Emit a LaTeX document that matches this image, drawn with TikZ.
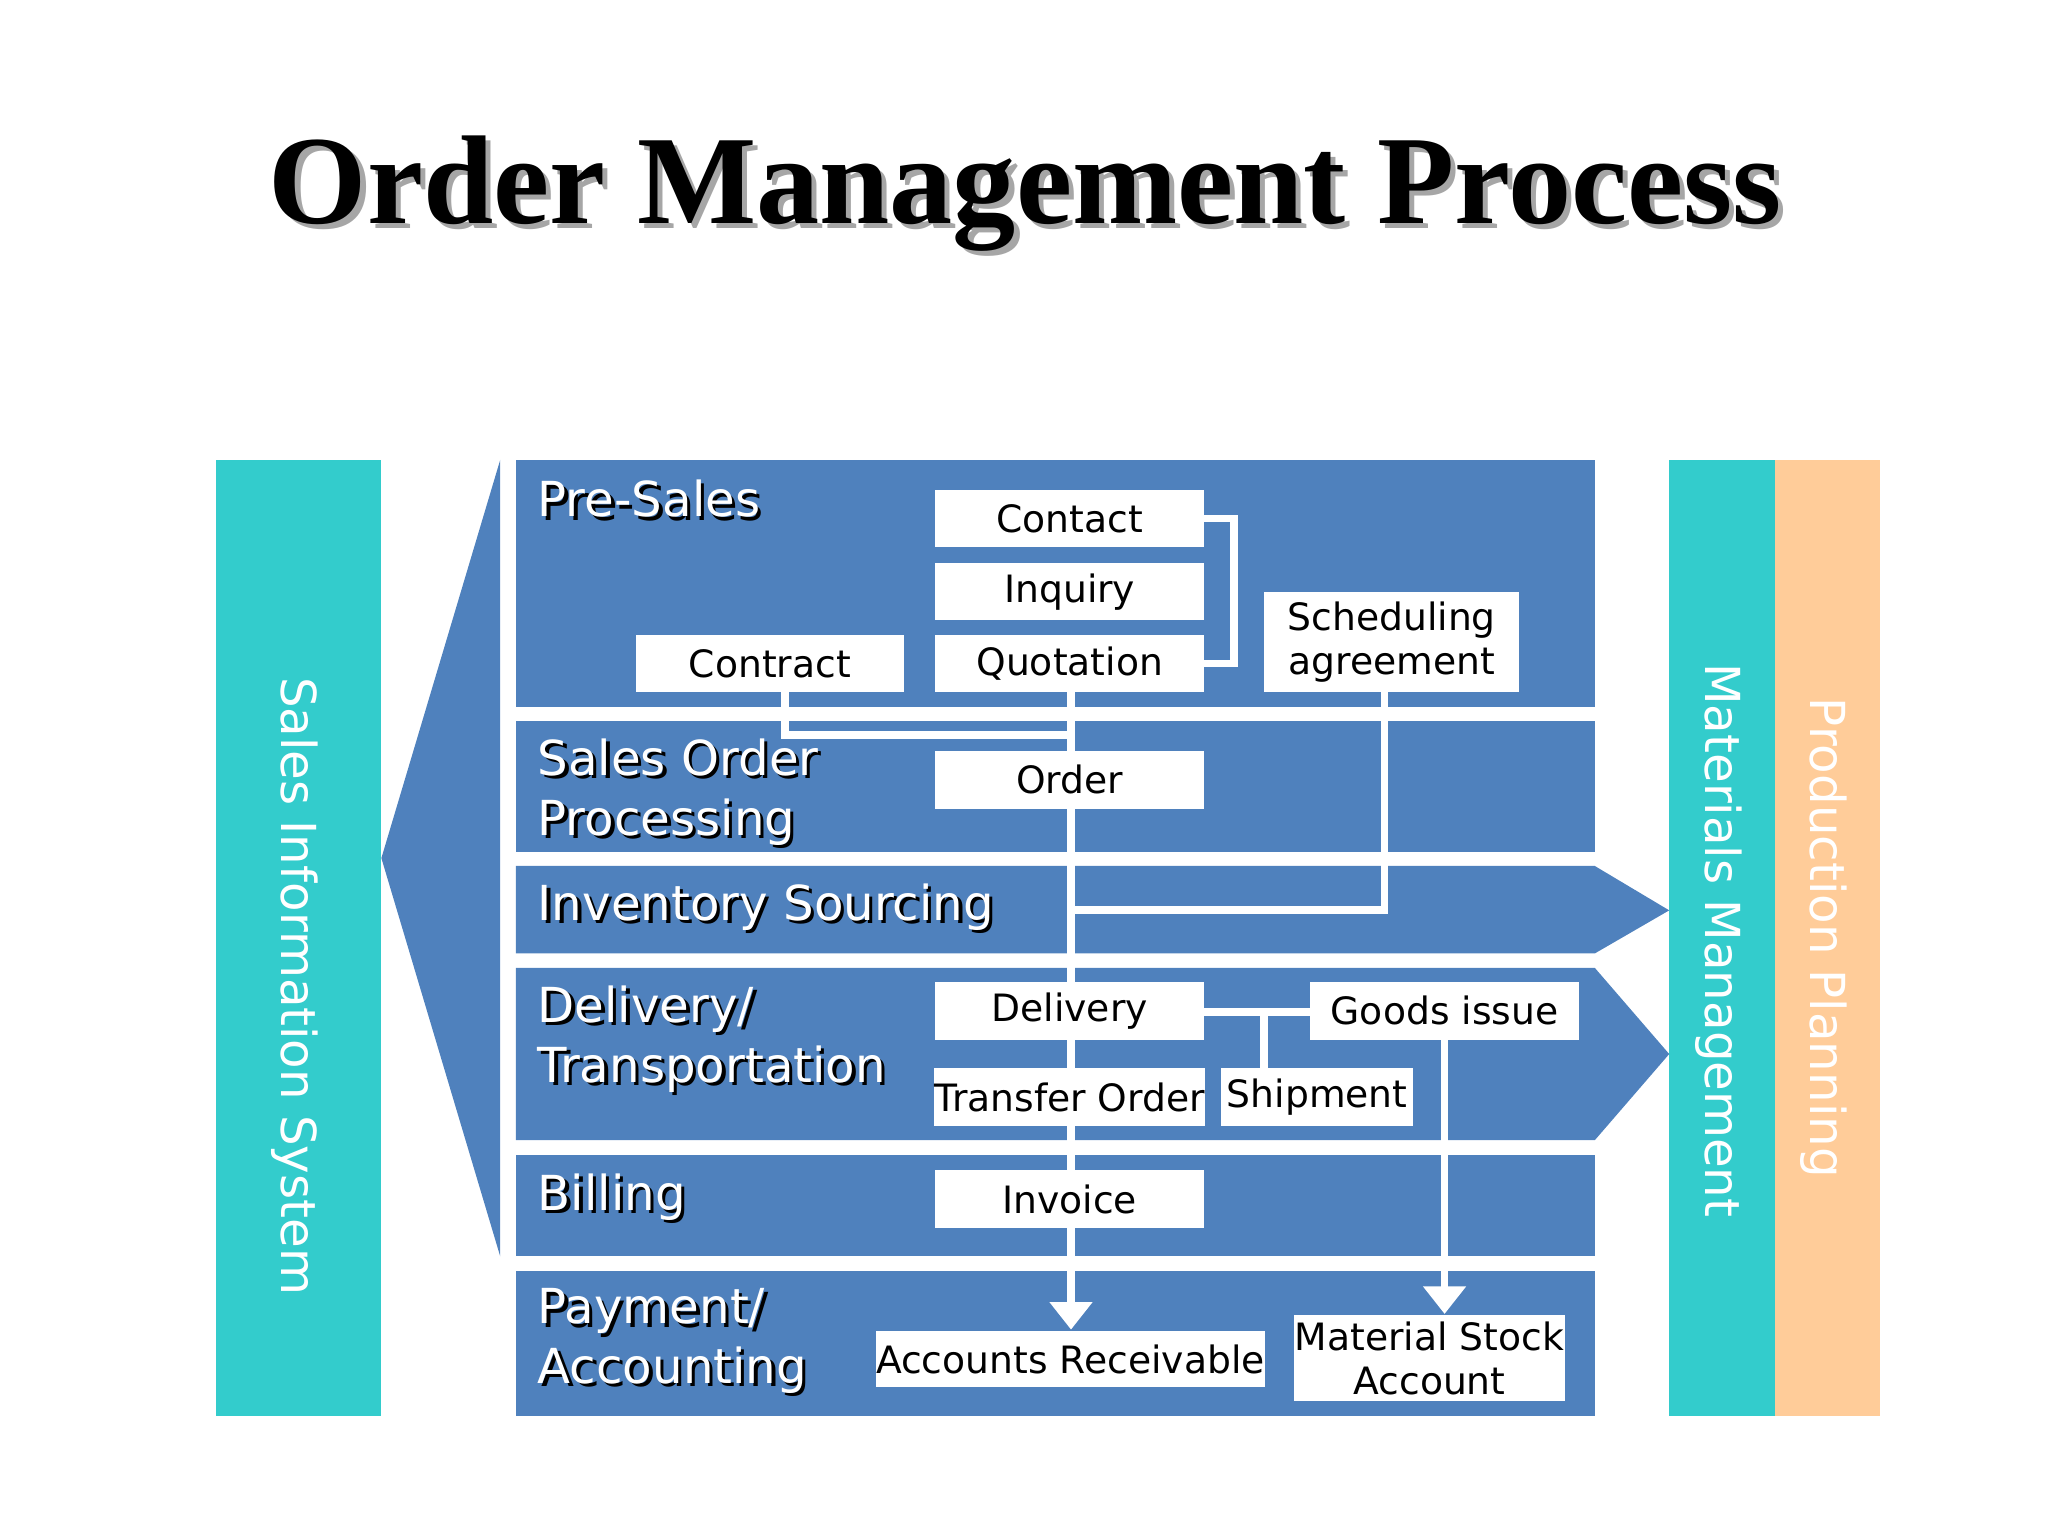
\documentclass[tikz,border=0pt]{standalone}
\usepackage{fontspec}
\setmainfont{DejaVu Sans}
\newfontfamily\titlefont{Liberation Serif}
\usetikzlibrary{arrows.meta}
\definecolor{band}{HTML}{4F81BD}
\definecolor{teal}{HTML}{33CCCC}
\definecolor{peach}{HTML}{FFCC99}
\begin{document}
\begin{tikzpicture}[x=0.01cm,y=-0.01cm,
 box/.style={fill=white,inner sep=0,font=\fontsize{8.2}{9.5}\selectfont,align=center},
 lbl/.style={anchor=north west,font=\fontsize{10.5}{13}\selectfont,align=left,inner sep=0},
 con/.style={draw=white,line width=1.7pt},
 arr/.style={con,-{Triangle[width=9pt,length=6pt]}}]
\useasboundingbox (0,0) rectangle (1568,1176);
\node[font=\titlefont\bfseries\fontsize{27.5}{30}\selectfont,text=black!35] at (789,152) {Order Management Process};
\node (title)[font=\titlefont\bfseries\fontsize{27.5}{30}\selectfont] at (785,148) {Order Management Process};
% side bars
\fill[teal] (165,352) rectangle (292,1084);
\fill[teal] (1278,352) rectangle (1359,1084);
\fill[peach] (1359,352) rectangle (1439,1084);
\node (sis)[rotate=-90,text=white,font=\fontsize{10.5}{13}\selectfont] at (226,755) {Sales Information System};
\node (mm)[rotate=-90,text=white,font=\fontsize{10.5}{13}\selectfont] at (1316,720) {Materials Management};
\node (pp)[rotate=-90,text=white,font=\fontsize{10.5}{13}\selectfont] at (1396,718) {Production Planning};
\fill[band] (292,657) -- (383,352) -- (383,962) -- cycle;
% bands
\fill[band] (395,352) rectangle (1221,541);
\fill[band] (395,552) rectangle (1221,652);
\fill[band] (395,663) -- (1221,663) -- (1278,697) -- (1221,730) -- (395,730) -- cycle;
\fill[band] (395,741) -- (1221,741) -- (1278,807) -- (1221,873) -- (395,873) -- cycle;
\fill[band] (395,884) rectangle (1221,962);
\fill[band] (395,973) rectangle (1221,1084);
% band labels with shadow
\foreach \p/\t in {{(411,367)}/{Pre-Sales},{(411,565)}/{Sales Order\\Processing},{(411,676)}/{Inventory Sourcing},{(411,754)}/{Delivery/\\Transportation},{(411,898)}/{Billing},{(411,986)}/{Payment/\\Accounting}}{
 \node[lbl,text=black,xshift=0.025cm,yshift=-0.025cm] at \p {\t};
 \node[lbl,text=white] at \p {\t};}
% connectors (behind boxes)
\coordinate (c1) at (945,397);
\coordinate (c2) at (945,508);
\coordinate (c3) at (601,563);
\coordinate (c4) at (820,563);
\coordinate (c5) at (1060,697);
\coordinate (c6) at (820,697);
\coordinate (c7) at (968,775);
\coordinate (c8) at (1106,775);
\draw[con] (922,397) -- (c1) -- (c2) -- (922,508);
\draw[con] (601,530) -- (c3) -- (c4);
\draw[con] (1060,530) -- (c5) -- (c6);
\draw[con] (922,775) -- (1003,775);
\draw[con] (c7) -- (968,818);
\draw[arr] (820,530) -- (820,1018);
\draw[arr] (1106,796) -- (1106,1006);
% boxes
\node (contact)[box,minimum width=2.06cm,minimum height=0.44cm] at (819,397) {Contact};
\node (inquiry)[box,minimum width=2.06cm,minimum height=0.44cm] at (819,453) {Inquiry};
\node (quot)[box,minimum width=2.06cm,minimum height=0.44cm] at (819,508) {Quotation};
\node (contract)[box,minimum width=2.05cm,minimum height=0.44cm] at (589.5,508) {Contract};
\node (sched)[box,minimum width=1.95cm,minimum height=0.77cm] at (1065.5,491.5) {Scheduling\\agreement};
\node (order)[box,minimum width=2.06cm,minimum height=0.44cm] at (819,597) {Order};
\node (deliv)[box,minimum width=2.06cm,minimum height=0.44cm] at (819,774) {Delivery};
\node (gi)[box,minimum width=2.06cm,minimum height=0.44cm] at (1106,774) {Goods issue};
\node (to)[box,minimum width=2.06cm,minimum height=0.44cm] at (819,840) {Transfer Order};
\node (ship)[box,minimum width=1.47cm,minimum height=0.44cm] at (1008.5,840) {Shipment};
\node (inv)[box,minimum width=2.06cm,minimum height=0.44cm] at (819,918) {Invoice};
\node (ar)[box,minimum width=2.97cm,minimum height=0.43cm] at (819.5,1040.5) {Accounts Receivable};
\node (msa)[box,minimum width=2.07cm,minimum height=0.66cm] at (1094.5,1040) {Material Stock\\Account};
\end{tikzpicture}
\end{document}
